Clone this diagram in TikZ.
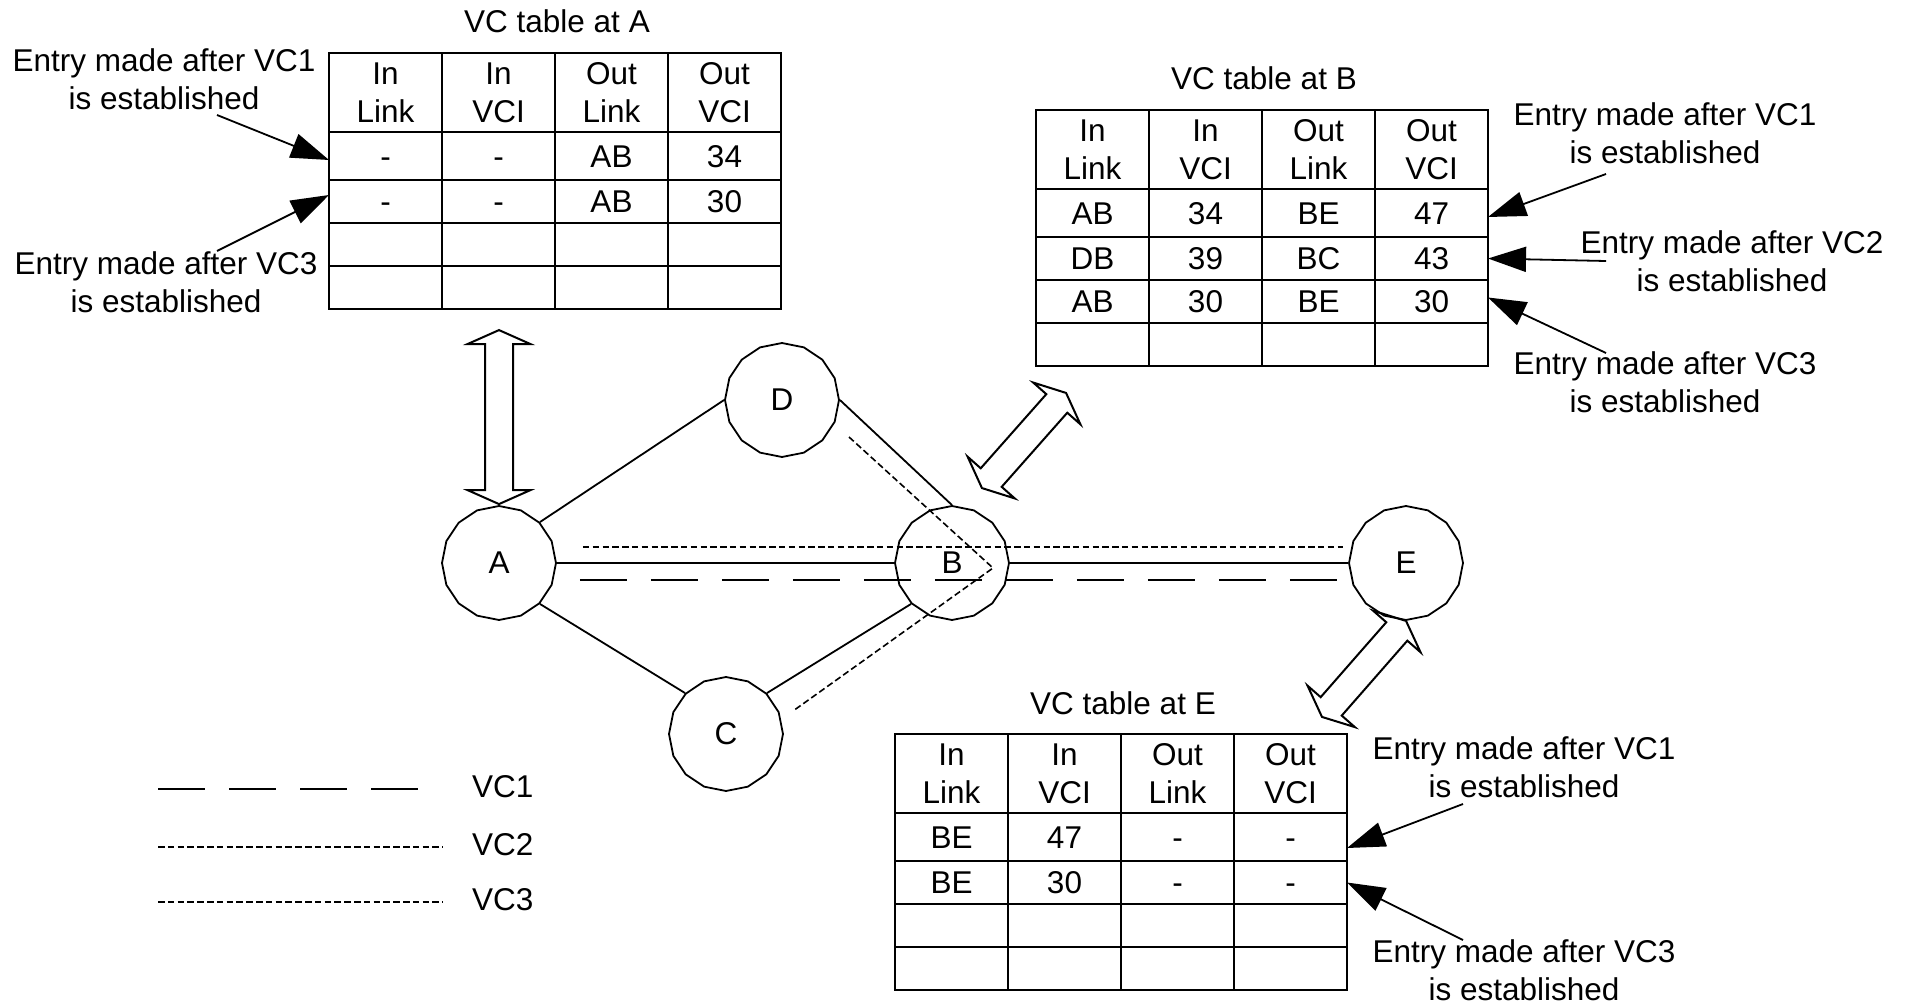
\documentclass[tikz,border=0pt]{standalone}
\usepackage{fontspec}
\setmainfont{Liberation Sans}
\usetikzlibrary{arrows.meta,calc,shapes.geometric}

\tikzset{
  vcnode/.style={draw, line width=1.8pt, regular polygon, regular polygon sides=16,
    shape border rotate=11.25, minimum size=114pt, inner sep=0pt},
  wire/.style={line width=1.8pt},
  vcone/.style={line width=2.5pt, dash pattern=on 47pt off 24pt},
  vcshort/.style={line width=1.6pt, dash pattern=on 6.5pt off 3.3pt},
  cell/.style={draw, line width=2pt, anchor=north west, minimum width=113pt,
    inner sep=0pt, outer sep=0pt},
  headcell/.style={cell, minimum height=79pt, align=center},
  firstcell/.style={cell, minimum height=48pt, text height=22.6pt, text depth=0pt},
  datacell/.style={cell, minimum height=43pt, text height=22.6pt, text depth=0pt},
  tabtitle/.style={anchor=base},
  note/.style={align=center},
  pointer/.style={line width=1.8pt, -{Triangle[length=38pt,width=25pt]}},
  pics/fatarrow/.style={code={
    \draw[line width=2pt]
      (-#1/2,0) -- (-#1/2+14,31.5) -- (-#1/2+14,14) -- (#1/2-14,14)
      -- (#1/2-14,31.5) -- (#1/2,0) -- (#1/2-14,-31.5) -- (#1/2-14,-14)
      -- (-#1/2+14,-14) -- (-#1/2+14,-31.5) -- cycle;
  }}
}

% one row of a VC table: table, row, y offset, style, four entries
\newcommand{\vcrow}[8]{%
  \node[#4] (#1-#2-1) at ($(#1)+(0,#3)$) {#5};
  \node[#4] (#1-#2-2) at ($(#1)+(113,#3)$) {#6};
  \node[#4] (#1-#2-3) at ($(#1)+(226,#3)$) {#7};
  \node[#4] (#1-#2-4) at ($(#1)+(339,#3)$) {#8};
}

\begin{document}
\begin{tikzpicture}[x=1pt, y=-1pt, font=\fontsize{31.5}{37.7}\selectfont,
  every node/.append style={inner sep=0pt}]
  \useasboundingbox (0,0) rectangle (1910,1006);

  % switches
  \node[vcnode] (A) at (499,563) {A};
  \node[vcnode] (D) at (782,400) {D};
  \node[vcnode] (B) at (952,563) {B};
  \node[vcnode] (C) at (726,734) {C};
  \node[vcnode] (E) at (1406,563) {E};

  \draw[wire] (A.45) -- (D.180);
  \draw[wire] (D.0) -- (B.90);
  \draw[wire] (A.315) -- (C.135);
  \draw[wire] (C.45) -- (B.225);
  \draw[wire] (A) -- (B);
  \draw[wire] (B) -- (E);

  % virtual circuits
  \draw[vcone] ([shift={(23,17)}]A.east) -- ([shift={(-6,17)}]E.west);
  \draw[vcshort] ([shift={(26,-16)}]A.east) -- ([shift={(-5,-16)}]E.west);
  \draw[vcshort] ([shift={(67,37)}]D.center) -- ([shift={(41,5)}]B.center)
    -- ([shift={(67,-23)}]C.center);

  % VC table at A
  \coordinate (tabA) at (329,53);
  \node[tabtitle] (titleA) at ($(tabA)+(228,-20)$) {VC table at A};
  \vcrow{tabA}{0}{0}{headcell}{In\\Link}{In\\VCI}{Out\\Link}{Out\\VCI}
  \vcrow{tabA}{1}{79}{firstcell}{-}{-}{AB}{34}
  \vcrow{tabA}{2}{127}{datacell}{-}{-}{AB}{30}
  \vcrow{tabA}{3}{170}{datacell}{}{}{}{}
  \vcrow{tabA}{4}{213}{datacell}{}{}{}{}

  % VC table at B
  \coordinate (tabB) at (1036,110);
  \node[tabtitle] (titleB) at ($(tabB)+(228,-20)$) {VC table at B};
  \vcrow{tabB}{0}{0}{headcell}{In\\Link}{In\\VCI}{Out\\Link}{Out\\VCI}
  \vcrow{tabB}{1}{79}{firstcell}{AB}{34}{BE}{47}
  \vcrow{tabB}{2}{127}{datacell}{DB}{39}{BC}{43}
  \vcrow{tabB}{3}{170}{datacell}{AB}{30}{BE}{30}
  \vcrow{tabB}{4}{213}{datacell}{}{}{}{}

  % VC table at E
  \coordinate (tabE) at (895,734);
  \node[tabtitle] (titleE) at ($(tabE)+(228,-20)$) {VC table at E};
  \vcrow{tabE}{0}{0}{headcell}{In\\Link}{In\\VCI}{Out\\Link}{Out\\VCI}
  \vcrow{tabE}{1}{79}{firstcell}{BE}{47}{-}{-}
  \vcrow{tabE}{2}{127}{datacell}{BE}{30}{-}{-}
  \vcrow{tabE}{3}{170}{datacell}{}{}{}{}
  \vcrow{tabE}{4}{213}{datacell}{}{}{}{}

  % tables to switches
  \pic[rotate=90] at ([yshift=88pt]A.north) {fatarrow=174};
  \pic[rotate=48.5] at ([shift={(72,-122.5)}]B.center) {fatarrow=127};
  \pic[rotate=48.8] at ([shift={(-42,48)}]E.south) {fatarrow=127.6};

  % entries
  \node[note] (noteA1) at (164,79.5) {Entry made after VC1\\is established};
  \node[note] (noteA3) at (166,282) {Entry made after VC3\\is established};
  \node[note] (noteB1) at (1665,133) {Entry made after VC1\\is established};
  \node[note] (noteB2) at (1732,261) {Entry made after VC2\\is established};
  \node[note] (noteB3) at (1665,382) {Entry made after VC3\\is established};
  \node[note] (noteE1) at (1524,767) {Entry made after VC1\\is established};
  \node[note] (noteE3) at (1524,970) {Entry made after VC3\\is established};

  \coordinate (fromA1) at (217,115);
  \coordinate (fromA3) at (217,251);
  \coordinate (fromB1) at (1606,174);
  \coordinate (fromB2) at (1606,261);
  \coordinate (fromB3) at (1606,353);
  \coordinate (fromE1) at (1463,804);
  \coordinate (fromE3) at (1463,940);

  \draw[pointer] (fromA1) -- ([yshift=-4pt]tabA-1-1.west);
  \draw[pointer] (fromA3) -- ([yshift=6.5pt]tabA-2-1.west);
  \draw[pointer] (fromB1) -- ([yshift=-4pt]tabB-1-4.east);
  \draw[pointer] (fromB2) -- (tabB-2-4.east);
  \draw[pointer] (fromB3) -- ([yshift=4pt]tabB-3-4.east);
  \draw[pointer] (fromE1) -- ([yshift=-11pt]tabE-1-4.east);
  \draw[pointer] (fromE3) -- (tabE-2-4.east);

  % legend
  \node[anchor=west] (legone) at (472,787) {VC1};
  \node[anchor=west] (legtwo) at (472,845) {VC2};
  \node[anchor=west] (legthree) at (472,900) {VC3};
  \draw[vcone] (158,789) -- (422,789);
  \draw[vcshort] (158,847) -- (443,847);
  \draw[vcshort] (158,902) -- (443,902);

\end{tikzpicture}
\end{document}
